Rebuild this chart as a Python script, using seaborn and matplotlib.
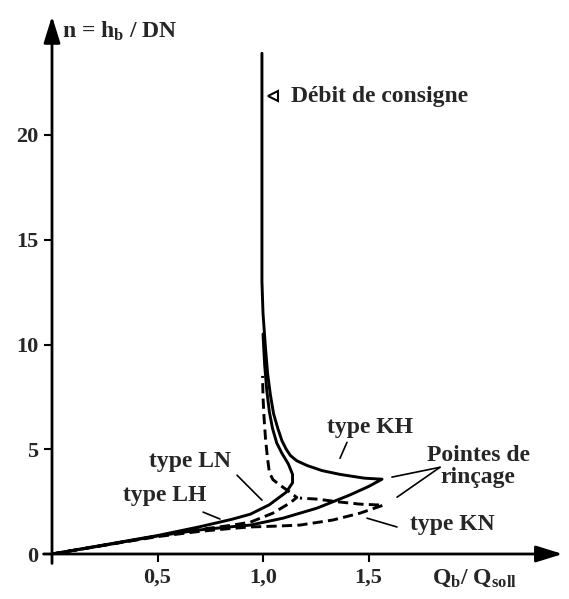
import matplotlib
matplotlib.use("Agg")
import matplotlib.pyplot as plt
import seaborn as sns
import pandas as pd

# ---- data ----
kh_x = [0, 0.25, 0.5, 0.7, 0.85, 0.94, 1.095, 1.256, 1.41, 1.5, 1.564,
        1.48, 1.365, 1.28, 1.21, 1.16, 1.13, 1.11, 1.09, 1.07, 1.05, 1.035,
        1.022, 1.012, 1.0, 0.995, 0.995]
kh_y = [0, 0.42, 0.86, 1.15, 1.3, 1.38, 1.71, 2.19, 2.81, 3.22, 3.57,
        3.62, 3.8, 3.98, 4.22, 4.45, 4.7, 5.0, 5.4, 6.0, 6.7, 7.6,
        8.6, 9.8, 11.5, 13.0, 23.9]

lh_x = [0, 0.25, 0.5, 0.7, 0.85, 0.94, 1.03, 1.11, 1.14, 1.14, 1.12, 1.09,
        1.065, 1.045, 1.03, 1.018, 1.008, 1.0]
lh_y = [0, 0.44, 0.88, 1.3, 1.65, 1.9, 2.35, 2.95, 3.4, 3.8, 4.3, 4.8,
        5.3, 6.0, 6.8, 7.8, 9.0, 10.5]

ln_x = [0, 0.25, 0.5, 0.7, 0.85, 0.94, 1.047, 1.13, 1.16, 1.114, 1.08,
        1.047, 1.03, 1.02, 1.012, 1.005, 1.0, 0.998]
ln_y = [0, 0.43, 0.86, 1.17, 1.37, 1.52, 1.95, 2.45, 2.7, 3.05, 3.29,
        3.55, 3.9, 4.7, 5.5, 6.5, 7.5, 8.5]

kn_x = [0, 0.25, 0.5, 0.7, 0.85, 0.94, 1.06, 1.175, 1.33, 1.46, 1.57,
        1.46, 1.365, 1.256, 1.175]
kn_y = [0, 0.42, 0.83, 1.08, 1.22, 1.29, 1.33, 1.38, 1.62, 1.95, 2.33,
        2.38, 2.48, 2.62, 2.67]

y_ticks = [0, 5, 10, 15, 20]
y_ticklabels = ["0", "5", "10", "15", "20"]
x_ticks = [0.5, 1.0, 1.5]
x_ticklabels = ["0,5", "1,0", "1,5"]

frames = []
for name, xs, ys in [("KH", kh_x, kh_y), ("LH", lh_x, lh_y),
                     ("LN", ln_x, ln_y), ("KN", kn_x, kn_y)]:
    frames.append(pd.DataFrame({"x": xs, "y": ys, "type": name,
                                "order": range(len(xs))}))
df = pd.concat(frames, ignore_index=True)

sns.set_theme(style="white")
plt.rcParams["font.family"] = ["Liberation Serif", "DejaVu Serif"]
plt.rcParams["font.weight"] = "bold"
plt.rcParams["mathtext.fontset"] = "custom"
plt.rcParams["mathtext.rm"] = "Liberation Serif:bold"
plt.rcParams["mathtext.it"] = "Liberation Serif:bold"
plt.rcParams["mathtext.bf"] = "Liberation Serif:bold"

fig = plt.figure(figsize=(5.69, 5.99), dpi=100)
XMAX, YMAX = 2.42, 25.67
ax = fig.add_axes([52 / 569, 45 / 599, XMAX * 211 / 569, YMAX * 20.95 / 599])

sns.lineplot(data=df, x="x", y="y", units="type", style="type",
             estimator=None, sort=False, color="black", lw=2.1,
             dashes={"KH": "", "LH": "", "LN": (3.5, 1.8), "KN": (3.5, 1.8)},
             legend=False, ax=ax)

ax.set_xlim(0, XMAX)
ax.set_ylim(0, YMAX)
for s in ax.spines.values():
    s.set_visible(False)
ax.set_xlabel("")
ax.set_ylabel("")

ax.set_yticks(y_ticks)
ax.set_yticklabels(y_ticklabels, fontsize=16, fontweight="bold")
ax.set_xticks(x_ticks)
ax.set_xticklabels(x_ticklabels, fontsize=16, fontweight="bold")
ax.tick_params(axis="both", which="both", direction="out", length=6,
               width=1.5, color="black", left=True, bottom=True, pad=4)

# axes arrows
arrow = dict(arrowstyle="-|>,head_length=0.9,head_width=0.28", lw=2,
             color="black", shrinkA=0, shrinkB=0, mutation_scale=18)
ax.annotate("", xy=(0, YMAX), xytext=(0, -0.45), xycoords="data",
            arrowprops=arrow, annotation_clip=False)
ax.annotate("", xy=(XMAX, 0), xytext=(-0.04, 0), xycoords="data",
            arrowprops=arrow, annotation_clip=False)

fs = 17
ax.text(0.047, 24.95, r"n = h$_{\mathrm{b}}$ / DN", fontsize=fs,
        fontweight="bold", ha="left", va="center", clip_on=False)
ax.text(1.80, -1.15, r"Q$_{\mathrm{b}}$/ Q$_{\mathrm{soll}}$", fontsize=fs,
        fontweight="bold", ha="left", va="center", clip_on=False)

ax.plot([1.047], [21.86], marker="<", ms=7, mfc="white", mec="black",
        mew=1.5, clip_on=False)
ax.text(1.133, 21.86, "Débit de consigne", fontsize=fs, fontweight="bold",
        ha="left", va="center")

ax.text(1.505, 6.05, "type KH", fontsize=fs, fontweight="bold",
        ha="center", va="center")
ax.text(0.654, 4.43, "type LN", fontsize=fs, fontweight="bold",
        ha="center", va="center")
ax.text(0.536, 2.81, "type LH", fontsize=fs, fontweight="bold",
        ha="center", va="center")
ax.text(1.896, 1.43, "type KN", fontsize=fs, fontweight="bold",
        ha="center", va="center")
ax.text(2.02, 4.19, "Pointes de\nrinçage", fontsize=fs, fontweight="bold",
        ha="center", va="center", linespacing=1.05)

lk = dict(color="black", lw=1.2)
ax.plot([1.398, 1.365], [5.33, 4.57], **lk)
ax.plot([0.877, 0.995], [3.76, 2.57], **lk)
ax.plot([0.716, 0.796], [2.0, 1.67], **lk)
ax.plot([1.493, 1.635], [1.71, 1.29], **lk)
ax.plot([1.839, 1.611], [4.14, 3.67], **lk)
ax.plot([1.839, 1.635], [4.14, 2.71], **lk)

fig.savefig("out.png", dpi=100)
